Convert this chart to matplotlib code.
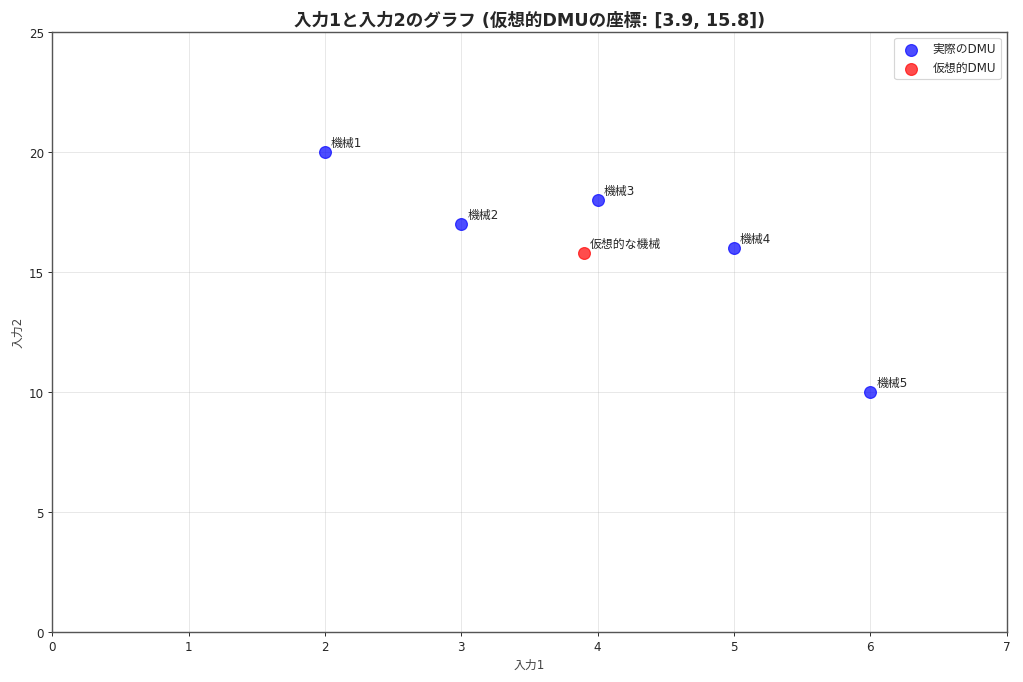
import matplotlib
matplotlib.use("Agg")
import matplotlib.pyplot as plt

plt.rcParams['font.family'] = ['DejaVu Sans', 'Noto Sans CJK JP']
plt.rcParams['text.color'] = '#262626'
plt.rcParams['xtick.color'] = '#262626'
plt.rcParams['ytick.color'] = '#262626'

names = ['機械1', '機械2', '機械3', '機械4', '機械5']
input1 = [2, 3, 4, 5, 6]
input2 = [20, 17, 18, 16, 10]
virt_name = '仮想的な機械'
virt = [3.9, 15.8]

fig, ax = plt.subplots(figsize=(12, 8), dpi=85.33)
ax.scatter(input1, input2, s=100, color='blue', alpha=0.7, label='実際のDMU', zorder=3)
ax.scatter([virt[0]], [virt[1]], s=100, color='red', alpha=0.7, label='仮想的DMU', zorder=3)
for n, x, y in zip(names, input1, input2):
    ax.annotate(n, (x, y), xytext=(5, 5), textcoords='offset points', fontsize=10)
ax.annotate(virt_name, (virt[0], virt[1]), xytext=(5, 5), textcoords='offset points', fontsize=10)

ax.set_xlim(0, 7)
ax.set_ylim(0, 25)
ax.set_xlabel('入力1', fontsize=10, color='#444444')
ax.set_ylabel('入力2', fontsize=10, color='#444444')
ax.set_title(f'入力1と入力2のグラフ (仮想的DMUの座標: [{virt[0]}, {virt[1]}])', fontsize=14.8, fontweight='bold')
ax.grid(True, alpha=0.3)
for s in ax.spines.values():
    s.set_color('#555555')
    s.set_linewidth(1.2)
ax.legend(loc='upper right')
fig.subplots_adjust(left=0.051, right=0.983, top=0.952, bottom=0.073)
fig.savefig('out.png', dpi=85.33)
